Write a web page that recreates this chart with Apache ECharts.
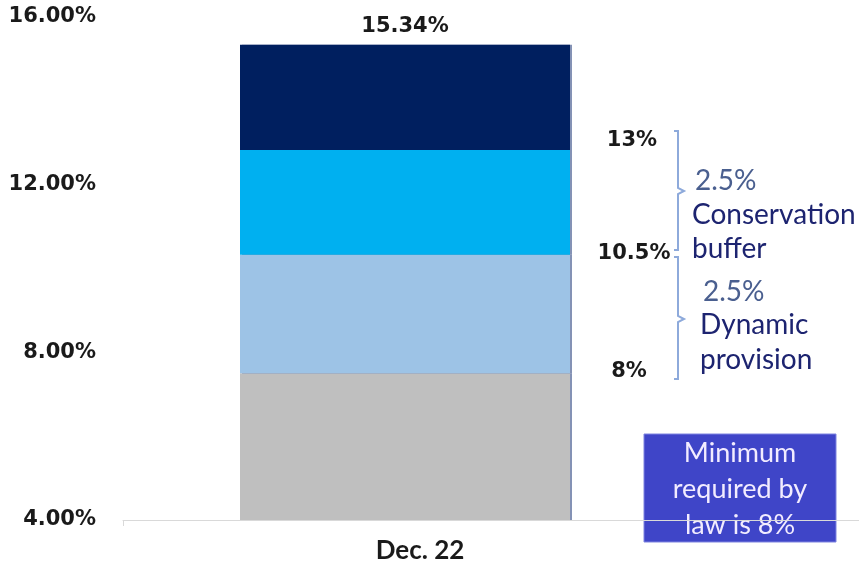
<!DOCTYPE html>
<html>
<head>
<meta charset="utf-8">
<script src="https://cdn.jsdelivr.net/npm/echarts@6/dist/echarts.min.js"></script>
<style>
  html, body { margin: 0; padding: 0; background: #fff; }
  #chart { width: 859px; height: 567px; }
</style>
</head>
<body>
<div id="chart"></div>
<script>
// Capital ratio build-up for one period, stacked from the base layer upward
const categories = ['Dec. 22'];
const baseLayer = [7.5];
const dynamicLayer = [2.83];
const conservationLayer = [2.5];
const topLayer = [2.51];

// Value axis range (percent)
const yMin = 4;
const yMax = 16;
const yStep = 4;

// Side annotation texts
const levelLabels = ['13%', '10.5%', '8%'];
const bufferNotes = [['2.5%', 'Conservation', 'buffer'], ['2.5%', 'Dynamic', 'provision']];
const noteBoxText = 'Minimum\nrequired by\nlaw is 8%';

const totals = categories.map((_, i) =>
  baseLayer[i] + dynamicLayer[i] + conservationLayer[i] + topLayer[i]);

const chart = echarts.init(document.getElementById('chart'), null, { renderer: 'canvas' });

const segShadow = { shadowColor: 'rgba(80,100,150,0.7)', shadowOffsetX: 2, shadowOffsetY: 0, shadowBlur: 0 };

function segment(name, data, color, extra) {
  return Object.assign({
    name: name,
    type: 'bar',
    stack: 'ratio',
    xAxisIndex: 0,
    yAxisIndex: 0,
    barWidth: 330,
    data: data,
    itemStyle: Object.assign({ color: color }, segShadow),
    emphasis: { disabled: true },
    animation: false
  }, extra || {});
}

const braceColor = '#8eaadb';
function brace(top, mid, bottom, x) {
  return {
    type: 'polyline',
    shape: { points: [[x - 4, top], [x, top], [x, mid - 3], [x + 6, mid], [x, mid + 3], [x, bottom], [x - 4, bottom]] },
    style: { stroke: braceColor, lineWidth: 2, fill: null }
  };
}
function sideText(text, x, y, opts) {
  return {
    type: 'text',
    x: x, y: y,
    style: Object.assign({
      text: text,
      font: '28px Lato',
      fill: '#1d2470',
      align: 'left',
      verticalAlign: 'middle'
    }, opts || {})
  };
}
const boldLevel = { font: 'bold 21px "DejaVu Sans"', fill: '#1a1a1a', align: 'center' };
const noteBlue = { fill: '#4a5f8f' };

chart.setOption({
  backgroundColor: '#ffffff',
  animation: false,
  grid: [
    { left: 123, right: 172, top: 17, bottom: 47 },
    { left: 123, right: 0, top: 17, bottom: 47 }
  ],
  xAxis: [
    {
      type: 'category',
      gridIndex: 0,
      data: categories,
      axisLine: { show: false },
      axisTick: { show: false },
      axisLabel: {
        margin: 18,
        color: '#1a1a1a',
        fontFamily: 'Lato',
        fontWeight: 'bold',
        fontSize: 26,
        padding: [0, 0, 0, 30]
      }
    },
    {
      type: 'category',
      gridIndex: 1,
      data: [''],
      axisLine: { show: true, lineStyle: { color: '#d9d9d9', width: 1 } },
      axisTick: { show: true, length: 6, lineStyle: { color: '#d9d9d9' } },
      axisLabel: { show: false }
    }
  ],
  yAxis: [
    {
      type: 'value',
      gridIndex: 0,
      min: yMin,
      max: yMax,
      interval: yStep,
      axisLine: { show: false },
      axisTick: { show: false },
      splitLine: { show: false },
      axisLabel: {
        margin: 27,
        color: '#1a1a1a',
        fontFamily: 'DejaVu Sans',
        fontWeight: 'bold',
        fontSize: 21,
        formatter: v => v.toFixed(2) + '%'
      }
    },
    {
      type: 'value',
      gridIndex: 1,
      min: yMin,
      max: yMax,
      show: false
    }
  ],
  series: [
    segment('Minimum', baseLayer, '#bfbfbf'),
    segment('Dynamic provision', dynamicLayer, '#9dc3e6'),
    segment('Conservation buffer', conservationLayer, '#00b0f0'),
    segment('Additional', topLayer, '#001f5f', {
      label: {
        show: true,
        position: 'top',
        distance: 8,
        color: '#1a1a1a',
        fontFamily: 'DejaVu Sans',
        fontWeight: 'bold',
        fontSize: 21,
        formatter: p => totals[p.dataIndex].toFixed(2) + '%'
      }
    })
  ],
  graphic: [
    brace(131, 191, 250, 678),
    brace(257, 319, 379, 678),
    sideText(levelLabels[0], 632, 141, boldLevel),
    sideText(levelLabels[1], 634, 254, boldLevel),
    sideText(levelLabels[2], 629, 372, boldLevel),
    sideText(bufferNotes[0][0], 695, 181, noteBlue),
    sideText(bufferNotes[0][1], 692, 215),
    sideText(bufferNotes[0][2], 692, 249),
    sideText(bufferNotes[1][0], 703, 292, noteBlue),
    sideText(bufferNotes[1][1], 700, 325),
    sideText(bufferNotes[1][2], 700, 360),
    {
      type: 'rect',
      shape: { x: 644, y: 434, width: 192, height: 108 },
      style: { fill: '#3f45c8', stroke: '#7f84e0', lineWidth: 1 }
    },
    {
      type: 'text',
      x: 740, y: 489,
      style: {
        text: noteBoxText,
        font: '27px Lato',
        fill: '#f2ecff',
        align: 'center',
        verticalAlign: 'middle',
        lineHeight: 36
      }
    }
  ]
});
</script>
</body>
</html>
